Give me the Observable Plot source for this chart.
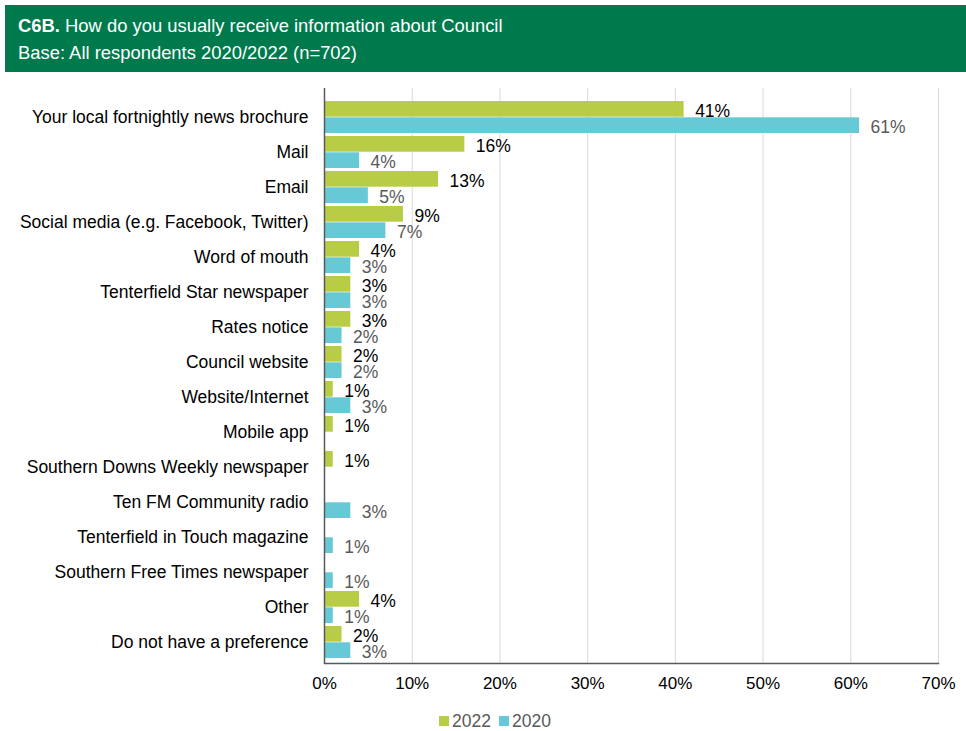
<!DOCTYPE html>
<html>
<head>
<meta charset="utf-8">
<script src="https://cdn.jsdelivr.net/npm/d3@7"></script>
<script src="https://cdn.jsdelivr.net/npm/@observablehq/plot@0.6"></script>
<style>
  body { margin: 0; background: #fff; font-family: Arial, "Liberation Sans", sans-serif; }
  #wrap { width: 966px; height: 731px; position: relative; }
  #header { position: absolute; left: 5px; top: 5px; width: 961px; height: 67px; background: #007A4D; color: #fff; box-sizing: border-box; padding-left: 13px; padding-top: 7px; font-size: 18.4px; line-height: 27px; }
  #chart { position: absolute; left: 0; top: 80px; }
  #legend { position: absolute; left: 0; top: 711px; width: 990px; text-align: center; font-size: 17.5px; color: #595959; }
  #legend span.sw { display: inline-block; width: 10px; height: 10px; margin-right: 3px; vertical-align: 1px; }
  #legend span.item { margin: 0 4px; }
</style>
</head>
<body>
<div id="wrap">
  <div id="header"><b>C6B.</b> How do you usually receive information about Council<br>Base: All respondents 2020/2022 (n=702)</div>
  <div id="chart"></div>
  <div id="legend"><span class="item"><span class="sw" style="background:#B9CC45"></span>2022</span><span class="item"><span class="sw" style="background:#67C9D6"></span>2020</span></div>
</div>
<script>
const categories = [
  "Your local fortnightly news brochure",
  "Mail",
  "Email",
  "Social media (e.g. Facebook, Twitter)",
  "Word of mouth",
  "Tenterfield Star newspaper",
  "Rates notice",
  "Council website",
  "Website/Internet",
  "Mobile app",
  "Southern Downs Weekly newspaper",
  "Ten FM Community radio",
  "Tenterfield in Touch magazine",
  "Southern Free Times newspaper",
  "Other",
  "Do not have a preference"
];
const values2022 = [41, 16, 13, 9, 4, 3, 3, 2, 1, 1, 1, null, null, null, 4, 2];
const values2020 = [61, 4, 5, 7, 3, 3, 2, 2, 3, null, null, 3, 1, 1, 1, 3];
const xTicks = [0, 10, 20, 30, 40, 50, 60, 70];

const d2022 = categories.map((c, i) => ({category: c, value: values2022[i]})).filter(d => d.value != null);
const d2020 = categories.map((c, i) => ({category: c, value: values2020[i]})).filter(d => d.value != null);

const plot = Plot.plot({
  width: 966,
  height: 620,
  marginTop: 8,
  marginBottom: 37,
  marginLeft: 324,
  marginRight: 28,
  style: {fontFamily: "Arial, 'Liberation Sans', sans-serif", fontSize: "17px", color: "#000", background: "transparent"},
  x: {domain: [0, 70], ticks: xTicks, tickFormat: d => d + "%", label: null},
  y: {domain: categories, paddingInner: 0.08, paddingOuter: 0.132, align: 0.74, label: null},
  marks: [
    Plot.gridX(xTicks, {stroke: "#d9d9d9", strokeOpacity: 1}),
    Plot.barX(d2022, {x: "value", y: "category", fill: "#B9CC45", insetBottom: 16.3}),
    Plot.barX(d2020, {x: "value", y: "category", fill: "#67C9D6", insetTop: 16.3}),
    Plot.text(d2022, {x: "value", y: "category", text: d => d.value + "%", dx: 11, dy: -6, textAnchor: "start", fill: "#000", fontSize: 17.5}),
    Plot.text(d2020, {x: "value", y: "category", text: d => d.value + "%", dx: 11, dy: 10, textAnchor: "start", fill: "#595959", fontSize: 17.5}),
    Plot.ruleX([0], {stroke: "#595959", strokeWidth: 1.5}),
    Plot.frame({anchor: "bottom", stroke: "#595959", strokeWidth: 1.5}),
    Plot.axisX({ticks: xTicks, tickFormat: d => d + "%", tickSize: 0, tickPadding: 13, fontSize: 17, fill: "#000", label: null}),
    Plot.axisY({tickSize: 0, tickPadding: 16, fontSize: 17.5, fill: "#000", label: null})
  ]
});
document.getElementById("chart").appendChild(plot);
</script>
</body>
</html>
